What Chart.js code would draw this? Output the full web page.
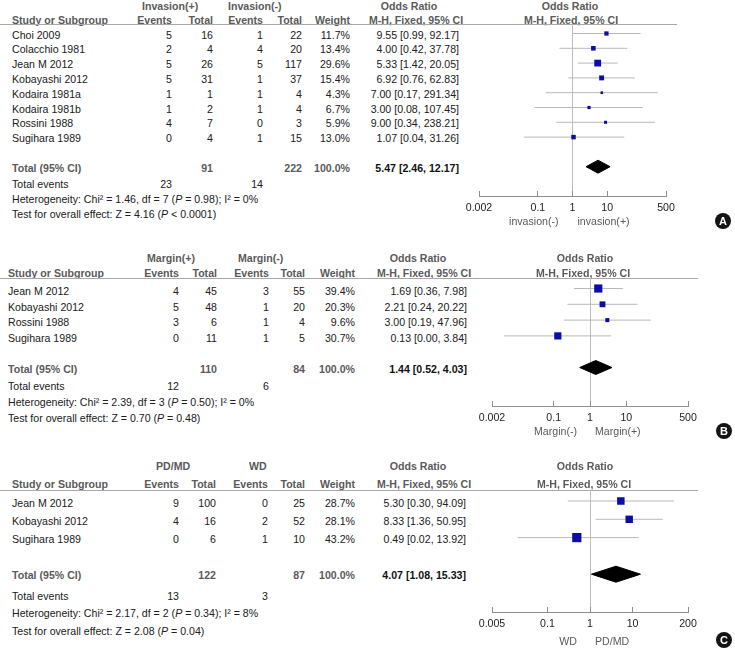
<!DOCTYPE html>
<html lang="en">
<head>
<meta charset="UTF-8">
<title>Forest plots</title>
<script src="https://cdn.jsdelivr.net/npm/chart.js@4"></script>
<style>
    body { margin: 0; background: #fff; }
    #fig { position: relative; width: 735px; height: 652px; overflow: hidden;
           font-family: "Liberation Sans", Arial, sans-serif; font-size: 10.6px; color: #202020; }
    .t { position: absolute; white-space: nowrap; line-height: 1; }
    .hd { font-weight: bold; color: #5a5a5a; }
    .bk { font-weight: bold; color: #111; }
    .sd { color: #5a5a5a; }
    .rule { position: absolute; left: 0; height: 1px; background: #a8a8a8; }
    .badge { position: absolute; width: 16px; height: 16px; border-radius: 50%; background: #141414;
             color: #fff; font-weight: bold; font-size: 11px; text-align: center; line-height: 16px;
             transform: translate(-50%, -50%); }
    canvas { position: absolute; }
</style>
</head>
<body>
<div id="fig"></div>
<script>
// ---- A: invasion ----
const studiesA = ['Choi 2009', 'Colacchio 1981', 'Jean M 2012', 'Kobayashi 2012', 'Kodaira 1981a', 'Kodaira 1981b', 'Rossini 1988', 'Sugihara 1989'];
const evPosA = [5, 2, 5, 5, 1, 1, 4, 0];
const nPosA = [16, 4, 26, 31, 1, 2, 7, 4];
const evNegA = [1, 4, 5, 1, 1, 1, 0, 1];
const nNegA = [22, 20, 117, 37, 4, 4, 3, 15];
const weightA = [11.7, 13.4, 29.6, 15.4, 4.3, 6.7, 5.9, 13.0];
const orA = [9.55, 4.00, 5.33, 6.92, 7.00, 3.00, 9.00, 1.07];
const loA = [0.99, 0.42, 1.42, 0.76, 0.17, 0.08, 0.34, 0.04];
const hiA = [92.17, 37.78, 20.05, 62.83, 291.34, 107.45, 238.21, 31.26];
const pooledA = [5.47, 2.46, 12.17];
const hetA = ['1.46', 7, '= 0.98', 0];
const testA = ['4.16', '< 0.0001'];
const groupsA = ['Invasion(+)', 'Invasion(-)'];
const sidesA = ['invasion(-)', 'invasion(+)'];
const ticksA = [0.002, 0.1, 1, 10, 500];

// ---- B: margin ----
const studiesB = ['Jean M 2012', 'Kobayashi 2012', 'Rossini 1988', 'Sugihara 1989'];
const evPosB = [4, 5, 3, 0];
const nPosB = [45, 48, 6, 11];
const evNegB = [3, 1, 1, 1];
const nNegB = [55, 20, 4, 5];
const weightB = [39.4, 20.3, 9.6, 30.7];
const orB = [1.69, 2.21, 3.00, 0.13];
const loB = [0.36, 0.24, 0.19, 0.0043];
const hiB = [7.98, 20.22, 47.96, 3.84];
const pooledB = [1.44, 0.52, 4.03];
const hetB = ['2.39', 3, '= 0.50', 0];
const testB = ['0.70', '= 0.48'];
const groupsB = ['Margin(+)', 'Margin(-)'];
const sidesB = ['Margin(-)', 'Margin(+)'];
const ticksB = [0.002, 0.1, 1, 10, 500];

// ---- C: differentiation ----
const studiesC = ['Jean M 2012', 'Kobayashi 2012', 'Sugihara 1989'];
const evPosC = [9, 4, 0];
const nPosC = [100, 16, 6];
const evNegC = [0, 2, 1];
const nNegC = [25, 52, 10];
const weightC = [28.7, 28.1, 43.2];
const orC = [5.30, 8.33, 0.49];
const loC = [0.30, 1.36, 0.02];
const hiC = [94.09, 50.95, 13.92];
const pooledC = [4.07, 1.08, 15.33];
const hetC = ['2.17', 2, '= 0.34', 8];
const testC = ['2.08', '= 0.04'];
const groupsC = ['PD/MD', 'WD'];
const sidesC = ['WD', 'PD/MD'];
const ticksC = [0.005, 0.1, 1, 10, 200];

const FONT = '"Liberation Sans", Arial, sans-serif';
Chart.defaults.font.family = FONT;
const fig = document.getElementById('fig');
const sum = a => a.reduce((s, v) => s + v, 0);

function put(x, y, html, align, cls) {
    const d = document.createElement('div');
    d.className = 't' + (cls ? ' ' + cls : '');
    d.innerHTML = html;
    d.style.left = x + 'px';
    d.style.top = y + 'px';
    const tx = align === 'right' ? '-100%' : align === 'center' ? '-50%' : '0';
    d.style.transform = `translate(${tx}, -50%)`;
    fig.appendChild(d);
    return d;
}

function ciText(o, l, h) {
    return `${o.toFixed(2)} [${l.toFixed(2)}, ${h.toFixed(2)}]`;
}

function panel(d, L) {
    const c = L.cols;
    // headers
    put(L.grpX[0], L.grpY, d.groups[0], 'left', 'hd');
    put(L.grpX[1], L.grpY, d.groups[1], 'left', 'hd');
    put(L.orHdr[0], L.grpY, 'Odds Ratio', 'center', 'hd');
    put(L.fpHdr[0], L.grpY, 'Odds Ratio', 'center', 'hd');
    put(L.studyX, L.hdrY, 'Study or Subgroup', 'left', 'hd');
    ['Events', 'Total', 'Events', 'Total', 'Weight'].forEach((h, k) => put(c[k], L.hdrY, h, 'right', 'hd'));
    put(L.orHdr[1], L.hdrY, 'M-H, Fixed, 95% CI', 'center', 'hd');
    put(L.fpHdr[1], L.hdrY, 'M-H, Fixed, 95% CI', 'center', 'hd');
    const r = document.createElement('div');
    r.className = 'rule';
    r.style.top = L.lineY + 'px';
    r.style.width = L.lineW + 'px';
    fig.appendChild(r);

    // study rows
    d.studies.forEach((s, i) => {
        const y = L.rowY0 + i * L.rowDy;
        put(L.studyX, y, s, 'left');
        put(c[0], y, d.evPos[i], 'right');
        put(c[1], y, d.nPos[i], 'right');
        put(c[2], y, d.evNeg[i], 'right');
        put(c[3], y, d.nNeg[i], 'right');
        put(c[4], y, d.weight[i].toFixed(1) + '%', 'right');
        put(c[5], y, ciText(d.or[i], d.lo[i], d.hi[i]), 'right');
    });

    // totals
    put(L.studyX, L.totalY, 'Total (95% CI)', 'left', 'hd');
    put(c[1], L.totalY, sum(d.nPos), 'right', 'hd');
    put(c[3], L.totalY, sum(d.nNeg), 'right', 'hd');
    put(c[4], L.totalY, sum(d.weight).toFixed(1) + '%', 'right', 'hd');
    put(c[5], L.totalY, ciText(...d.pooled), 'right', 'bk');
    put(L.studyX, L.evY, 'Total events', 'left');
    put(c[0], L.evY, sum(d.evPos), 'right');
    put(c[2], L.evY, sum(d.evNeg), 'right');
    const h = d.het;
    put(L.studyX, L.hetY, `Heterogeneity: Chi² = ${h[0]}, df = ${h[1]} (<i>P</i> ${h[2]}); I² = ${h[3]}%`, 'left');
    put(L.studyX, L.testY, `Test for overall effect: Z = ${d.test[0]} (<i>P</i> ${d.test[1]})`, 'left');

    // forest plot
    const P = L.plot;
    const padL = 40, padR = 40, padT = 2, axisH = 40;
    const cv = document.createElement('canvas');
    cv.width = P.right - P.left + padL + padR;
    cv.height = P.bottom - P.top + padT + axisH;
    cv.style.left = (P.left - padL) + 'px';
    cv.style.top = (P.top - padT) + 'px';
    fig.appendChild(cv);

    const tIdx = L.totalIdx;
    const hh = L.diamondH / P.dy;
    const datasets = [];
    // confidence intervals, drawn underneath the squares
    d.studies.forEach((s, i) => {
        datasets.push({
            type: 'scatter', showLine: true, order: 2,
            data: [{x: d.lo[i], y: i}, {x: d.hi[i], y: i}],
            borderColor: '#b9b9b9', borderWidth: 1, pointRadius: 0
        });
    });
    datasets.push({
        type: 'scatter', order: 0,
        data: d.or.map((v, i) => ({x: v, y: i})),
        pointStyle: 'rect',
        pointRadius: d.weight.map(w => L.sq * Math.sqrt(w) / Math.SQRT2),
        backgroundColor: '#0c0ca8', borderColor: '#0c0ca8', borderWidth: 0
    });
    const [po, pl, ph] = d.pooled;
    datasets.push({
        type: 'scatter', showLine: true, fill: 'shape', order: 0,
        data: [{x: pl, y: tIdx}, {x: po, y: tIdx - hh}, {x: ph, y: tIdx}, {x: po, y: tIdx + hh}, {x: pl, y: tIdx}],
        backgroundColor: '#000', borderColor: '#000', borderWidth: 1, pointRadius: 0, tension: 0
    });

    const ticks = d.ticks;
    const chart = new Chart(cv, {
        type: 'scatter',
        data: {datasets},
        options: {
            responsive: false, animation: false, events: [],
            layout: {padding: {left: padL, right: padR, top: padT, bottom: 0}, autoPadding: false},
            plugins: {legend: {display: false}, tooltip: {enabled: false}},
            scales: {
                x: {
                    type: 'logarithmic', position: 'bottom',
                    min: ticks[0], max: ticks[ticks.length - 1],
                    afterBuildTicks: s => { s.ticks = ticks.map(v => ({value: v})); },
                    afterFit: s => { s.height = axisH; },
                    grid: {
                        color: ctx => (ctx.tick && ctx.tick.value === 1) ? '#bdbdbd' : 'rgba(0,0,0,0)',
                        tickColor: '#8e8e8e', tickLength: -5, drawTicks: true, lineWidth: 1
                    },
                    border: {display: true, color: '#8e8e8e', width: 1},
                    ticks: {
                        autoSkip: false, maxRotation: 0, padding: L.tickPad, color: '#1e1e1e',
                        font: {family: FONT, size: 10.6},
                        callback: v => String(v)
                    }
                },
                y: {
                    type: 'linear', display: false, reverse: true,
                    min: (P.top - P.row0) / P.dy, max: (P.bottom - P.row0) / P.dy
                }
            }
        }
    });

    // side labels under the axis, around the line of no effect
    const x1 = P.left - padL + chart.scales.x.getPixelForValue(1);
    put(x1 - L.sideGap[0], L.sideY, d.sides[0], 'right', 'sd');
    put(x1 + L.sideGap[1], L.sideY, d.sides[1], 'left', 'sd');

    const b = document.createElement('div');
    b.className = 'badge';
    b.textContent = L.badge[2];
    b.style.left = L.badge[0] + 'px';
    b.style.top = L.badge[1] + 'px';
    fig.appendChild(b);
}

panel({
    studies: studiesA, evPos: evPosA, nPos: nPosA, evNeg: evNegA, nNeg: nNegA, weight: weightA,
    or: orA, lo: loA, hi: hiA, pooled: pooledA, het: hetA, test: testA,
    groups: groupsA, sides: sidesA, ticks: ticksA
}, {
    studyX: 12, cols: [172, 213, 263, 302, 350, 459], grpX: [142, 228], orHdr: [409, 416], fpHdr: [570, 571],
    grpY: 6, hdrY: 20, lineY: 24, lineW: 677,
    rowY0: 34.5, rowDy: 14.8, totalY: 168, evY: 184, hetY: 199, testY: 214,
    plot: {left: 479, right: 666, top: 24, bottom: 196, row0: 33.5, dy: 14.8},
    totalIdx: 9, diamondH: 6.5, sq: 1.25, tickPad: 11, sideY: 221, sideGap: [14, 5],
    badge: [723, 221, 'A']
});

panel({
    studies: studiesB, evPos: evPosB, nPos: nPosB, evNeg: evNegB, nNeg: nNegB, weight: weightB,
    or: orB, lo: loB, hi: hiB, pooled: pooledB, het: hetB, test: testB,
    groups: groupsB, sides: sidesB, ticks: ticksB
}, {
    studyX: 8, cols: [179, 217, 269, 305, 355, 467], grpX: [147, 238], orHdr: [418, 424], fpHdr: [585, 583],
    grpY: 258, hdrY: 273, lineY: 278, lineW: 698,
    rowY0: 291, rowDy: 15.7, totalY: 369, evY: 386, hetY: 402, testY: 418,
    plot: {left: 492, right: 688, top: 278, bottom: 406, row0: 288.5, dy: 15.8},
    totalIdx: 5, diamondH: 7, sq: 1.3, tickPad: 11, sideY: 431, sideGap: [13, 5],
    badge: [724, 431, 'B']
});

panel({
    studies: studiesC, evPos: evPosC, nPos: nPosC, evNeg: evNegC, nNeg: nNegC, weight: weightC,
    or: orC, lo: loC, hi: hiC, pooled: pooledC, het: hetC, test: testC,
    groups: groupsC, sides: sidesC, ticks: ticksC
}, {
    studyX: 12, cols: [179, 216, 268, 305, 355, 466], grpX: [156, 249], orHdr: [418, 424], fpHdr: [585, 584],
    grpY: 466, hdrY: 484, lineY: 490, lineW: 698,
    rowY0: 503, rowDy: 18, totalY: 575, evY: 596, hetY: 613, testY: 631,
    plot: {left: 492, right: 688, top: 490, bottom: 612, row0: 501, dy: 18.3},
    totalIdx: 4, diamondH: 8, sq: 1.4, tickPad: 11, sideY: 641, sideGap: [13, 5],
    badge: [724, 640, 'C']
});
</script>
</body>
</html>
